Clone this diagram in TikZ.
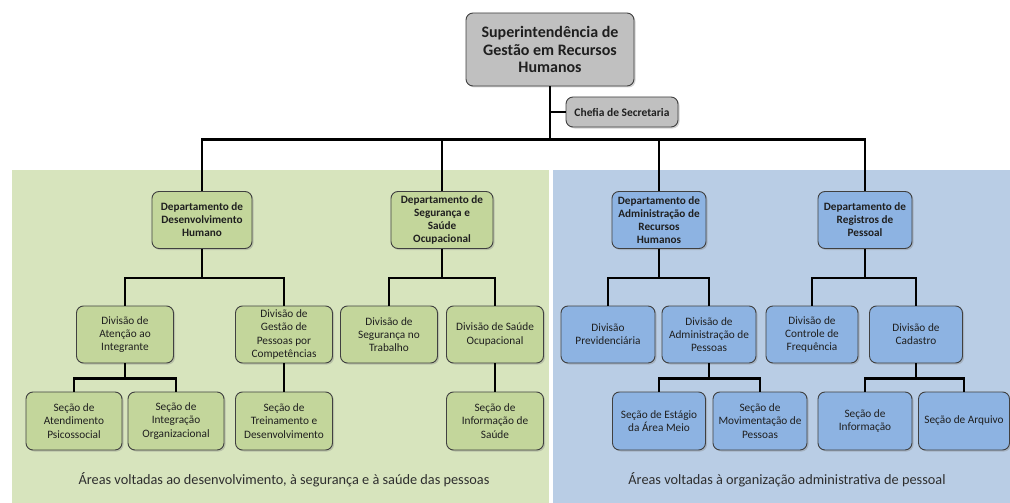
\documentclass[tikz,border=0pt]{standalone}
\usepackage{fontspec}
\setmainfont{Carlito}
\usetikzlibrary{shadows}
\definecolor{bggreen}{HTML}{D7E4BD}
\definecolor{bgblue}{HTML}{B9CDE5}
\definecolor{boxgreen}{HTML}{C3D69B}
\definecolor{boxblue}{HTML}{8DB3E2}
\definecolor{boxgray}{HTML}{C0C0C0}
\tikzset{
  orgbox/.style={draw=black!75, line width=0.9pt, rounded corners=7pt, align=center,
    inner sep=1pt, text=black!88,
    drop shadow={shadow xshift=1.5pt, shadow yshift=-1.5pt, opacity=0.35}},
  greenbox/.style={orgbox, fill=boxgreen},
  bluebox/.style={orgbox, fill=boxblue},
  dept/.style={minimum width=#1, minimum height=57pt, font=\fontsize{11.2}{13}\selectfont\bfseries},
  divi/.style={minimum width=#1, minimum height=57pt, font=\fontsize{11.3}{13.2}\selectfont},
  conn/.style={line width=2.6pt}
}

\begin{document}
\begin{tikzpicture}[x=1pt,y=-1pt]
		\useasboundingbox (0,0) rectangle (1010,503);
		
		% background areas
		\fill[bggreen] (12,170) rectangle (549,503);
		\fill[bgblue] (553,170) rectangle (1010,503);
		
		% top
		\node[orgbox, fill=boxgray, minimum width=168pt, minimum height=73pt,
		  font=\fontsize{16}{17.5}\selectfont\bfseries] (sup) at (550,49.5)
		  {Superintendência de\\Gestão em Recursos\\Humanos};
		\node[orgbox, fill=boxgray, minimum width=112pt, minimum height=30pt,
		  font=\fontsize{11.5}{13}\selectfont\bfseries] (chefia) at (622,112) {Chefia de Secretaria};
		
		% departamentos
		\node[greenbox, dept=100pt] (ddh) at (202,220) {Departamento de\\Desenvolvimento\\Humano};
		\node[greenbox, dept=102pt] (dsso) at (442,220) {Departamento de\\Segurança e\\Saúde\\Ocupacional};
		\node[bluebox, dept=94pt] (darh) at (659,220) {Departamento de\\Administração de\\Recursos\\Humanos};
		\node[bluebox, dept=94pt] (drp) at (865,220) {Departamento de\\Registros de\\Pessoal};
		
		% divisoes
		\node[greenbox, divi=97pt] (dai) at (125,334.5) {Divisão de\\Atenção ao\\Integrante};
		\node[greenbox, divi=97pt] (dgp) at (284,334.5) {Divisão de\\Gestão de\\Pessoas por\\Competências};
		\node[greenbox, divi=97pt] (dst) at (389,334.5) {Divisão de\\Segurança no\\Trabalho};
		\node[greenbox, divi=97pt] (dso) at (495,334.5) {Divisão de Saúde\\Ocupacional};
		\node[bluebox, divi=94pt] (dprev) at (608,334.5) {Divisão\\Previdenciária};
		\node[bluebox, divi=94pt] (dap) at (709,334.5) {Divisão de\\Administração de\\Pessoas};
		\node[bluebox, divi=92pt] (dcf) at (812,334.5) {Divisão de\\Controle de\\Frequência};
		\node[bluebox, divi=93pt] (dcad) at (916,334.5) {Divisão de\\Cadastro};
		
		% secoes
		\node[greenbox, divi=96pt, minimum height=58pt] (sap) at (74,421) {Seção de\\Atendimento\\Psicossocial};
		\node[greenbox, divi=96pt, minimum height=58pt] (sio) at (176,421) {Seção de\\Integração\\Organizacional};
		\node[greenbox, divi=97pt, minimum height=58pt] (std) at (284,421) {Seção de\\Treinamento e\\Desenvolvimento};
		\node[greenbox, divi=97pt, minimum height=58pt] (sis) at (495,421) {Seção de\\Informação de\\Saúde};
		\node[bluebox, divi=93pt, minimum height=58pt] (sea) at (659,421) {Seção de Estágio\\da Área Meio};
		\node[bluebox, divi=94pt, minimum height=58pt] (smp) at (760,421) {Seção de\\Movimentação de\\Pessoas};
		\node[bluebox, divi=94pt, minimum height=58pt] (sinf) at (865,421) {Seção de\\Informação};
		\node[bluebox, divi=91pt, minimum height=58pt] (sarq) at (964,421) {Seção de Arquivo};
		
		% ligacoes
		\draw[conn] (sup.south) -- ++(0,53) -| (ddh.north);
		\draw[conn] (sup.south) -- ++(0,53) -| (dsso.north);
		\draw[conn] (sup.south) -- ++(0,53) -| (darh.north);
		\draw[conn] (sup.south) -- ++(0,53) -| (drp.north);
		\draw[conn] (sup.south |- chefia.west) -- (chefia.west);
		
		\draw[conn] (ddh.south) -- ++(0,29) -| (dai.north);
		\draw[conn] (ddh.south) -- ++(0,29) -| (dgp.north);
		\draw[conn] (dsso.south) -- ++(0,29) -| (dst.north);
		\draw[conn] (dsso.south) -- ++(0,29) -| (dso.north);
		\draw[conn] (darh.south) -- ++(0,29) -| (dprev.north);
		\draw[conn] (darh.south) -- ++(0,29) -| (dap.north);
		\draw[conn] (drp.south) -- ++(0,29) -| (dcf.north);
		\draw[conn] (drp.south) -- ++(0,29) -| (dcad.north);
		
		\draw[conn] (dai.south) -- ++(0,15) -| (sap.north);
		\draw[conn] (dai.south) -- ++(0,15) -| (sio.north);
		\draw[conn] (dgp.south) -- (std.north);
		\draw[conn] (dso.south) -- (sis.north);
		\draw[conn] (dap.south) -- ++(0,15) -| (sea.north);
		\draw[conn] (dap.south) -- ++(0,15) -| (smp.north);
		\draw[conn] (dcad.south) -- ++(0,15) -| (sinf.north);
		\draw[conn] (dcad.south) -- ++(0,15) -| (sarq.north);
		
		% legendas
		\node[font=\fontsize{14.3}{16}\selectfont, text=black!82] (capg) at (284,480)
		  {Áreas voltadas ao desenvolvimento, à segurança e à saúde das pessoas};
		\node[font=\fontsize{14.3}{16}\selectfont, text=black!82] (capb) at (787,480)
		  {Áreas voltadas à organização administrativa de pessoal};
		
	\end{tikzpicture}
\end{document}
